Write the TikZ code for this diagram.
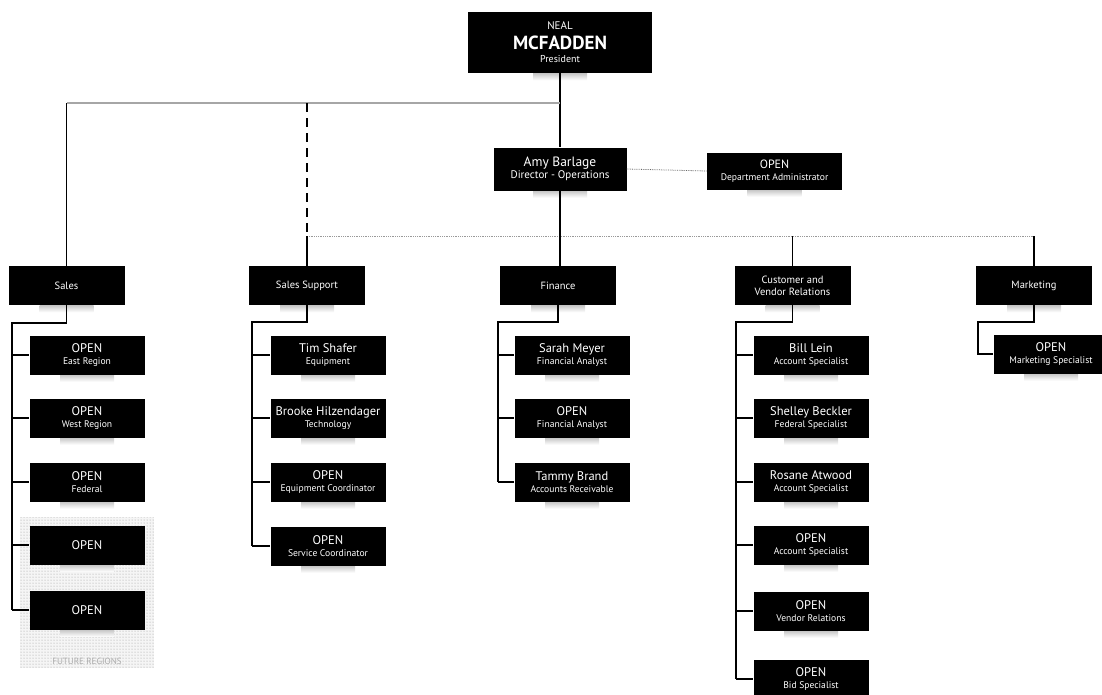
\documentclass[tikz,border=0pt]{standalone}
\usepackage{fontspec}
\setmainfont{PT Sans}
\usetikzlibrary{patterns}
\newcommand\boxname[1]{{\fontsize{12.5}{13}\selectfont #1}}
\newcommand\boxsub[1]{{\fontsize{9.6}{10}\selectfont #1}}
\tikzset{
  shadowed/.style={append after command={\pgfextra{\let\LN\tikzlastnode
     \shade[top color=gray!45, bottom color=white] ([xshift=-27pt]\LN.south) rectangle ([xshift=27pt,yshift=-7pt]\LN.south);}}},
  box/.style={fill=black, text=white, inner sep=0pt, align=center, shadowed},
  tier/.style={box, minimum width=116pt, minimum height=39pt, font=\fontsize{10.5}{12}\selectfont},
  child/.style={box, minimum width=115pt, minimum height=39pt},
  conn/.style={draw=black, line width=1.1pt},
  graybus/.style={draw=gray!70, line width=1.5pt},
  dotbus/.style={draw=black!60, line width=0.8pt, densely dotted},
}
\begin{document}
\begin{tikzpicture}[x=1pt,y=-1pt]
\useasboundingbox (0,0) rectangle (1102,694);
% future regions backdrop
\node[fill=gray!8, postaction={pattern=dots, pattern color=gray!80}, minimum width=134pt, minimum height=151pt, inner sep=0pt] (future) at (87,592.5) {};
\node[text=gray!65, font=\fontsize{9}{9}\selectfont] (futlabel) at (87,661) {FUTURE REGIONS};
% top
\node[box, minimum width=184pt, minimum height=61pt, font=\fontsize{11}{20}\selectfont] (pres) at (560,42.5)
  {NEAL\\{\fontsize{19}{19}\selectfont\bfseries MCFADDEN}\\[-7pt]{\fontsize{10}{10}\selectfont President}};
\node[box, minimum width=133pt, minimum height=43pt] (amy) at (560,169)
  {{\fontsize{13.5}{14}\selectfont Amy Barlage}\\{\fontsize{11}{12}\selectfont Director - Operations}};
\node[box, minimum width=135pt, minimum height=37pt] (admin) at (774.5,171)
  {{\fontsize{12}{13}\selectfont OPEN}\\{\fontsize{9.6}{10}\selectfont Department Administrator}};
% tier
\node[tier] (sales) at (66.5,285.5) {Sales};
\node[tier] (ss) at (307,285.5) {Sales Support};
\node[tier] (fin) at (558,285.5) {Finance};
\node[tier] (cvr) at (792.5,285.5) {Customer and\\Vendor Relations};
\node[tier] (mkt) at (1034,285.5) {Marketing};
% sales children
\node[child] (s1) at (87,355) {\boxname{OPEN}\\\boxsub{East Region}};
\node[child] (s2) at (87,418) {\boxname{OPEN}\\\boxsub{West Region}};
\node[child] (s3) at (87,482) {\boxname{OPEN}\\\boxsub{Federal}};
\node[child] (s4) at (87,545) {\boxname{OPEN}};
\node[child] (s5) at (87,610) {\boxname{OPEN}};
% sales support children
\node[child] (ss1) at (328,355) {\boxname{Tim Shafer}\\\boxsub{Equipment}};
\node[child] (ss2) at (328,418) {\boxname{Brooke Hilzendager}\\\boxsub{Technology}};
\node[child] (ss3) at (328,482) {\boxname{OPEN}\\\boxsub{Equipment Coordinator}};
\node[child] (ss4) at (328,546) {\boxname{OPEN}\\\boxsub{Service Coordinator}};
% finance children
\node[child] (f1) at (572,355) {\boxname{Sarah Meyer}\\\boxsub{Financial Analyst}};
\node[child] (f2) at (572,418) {\boxname{OPEN}\\\boxsub{Financial Analyst}};
\node[child] (f3) at (572,482) {\boxname{Tammy Brand}\\\boxsub{Accounts Receivable}};
% customer children
\node[child] (c1) at (811,355) {\boxname{Bill Lein}\\\boxsub{Account Specialist}};
\node[child] (c2) at (811,418) {\boxname{Shelley Beckler}\\\boxsub{Federal Specialist}};
\node[child] (c3) at (811,482) {\boxname{Rosane Atwood}\\\boxsub{Account Specialist}};
\node[child] (c4) at (811,545) {\boxname{OPEN}\\\boxsub{Account Specialist}};
\node[child] (c5) at (811,611) {\boxname{OPEN}\\\boxsub{Vendor Relations}};
\node[child] (c6) at (811,679) {\boxname{OPEN}\\\boxsub{Bid Specialist}};
% marketing child
\node[child] (m1) at (1051,354) {\boxname{OPEN}\\\boxsub{Marketing Specialist}};
% bus coordinates
\coordinate (topbus) at (0,103);
\coordinate (midbus) at (0,236);
\coordinate (sbus) at (12,323);
\coordinate (ssbus) at (252,322);
\coordinate (fbus) at (498,322);
\coordinate (cbus) at (736,322);
\coordinate (mbus) at (978,322);
% top connectors
\draw[conn] (pres.south) -- (amy.north);
\draw[graybus] (topbus -| pres.south) -- (topbus -| sales.north);
\draw[conn] (topbus -| sales.north) -- (sales.north);
\draw[conn, dash pattern=on 9pt off 6pt] (topbus -| ss.north) -- (midbus -| ss.north);
\draw[dotbus] (amy.east) -- (admin.west);
\draw[dotbus, draw=gray!80] (midbus -| ss.north) -- (midbus -| mkt.north);
\draw[conn] (midbus -| ss.north) -- (ss.north);
\draw[conn] (amy.south) -- (amy.south |- fin.north);
\draw[conn] (midbus -| cvr.north) -- (cvr.north);
\draw[conn] (midbus -| mkt.north) -- (mkt.north);
% sales bus
\draw[conn] (sales.south) |- (sbus) -- (sbus |- s5.west);
\foreach \n in {s1,s2,s3,s4,s5} \draw[conn] (sbus |- \n.west) -- (\n.west);
% sales support bus
\draw[conn] (ss.south) |- (ssbus) -- (ssbus |- ss4.west);
\foreach \n in {ss1,ss2,ss3,ss4} \draw[conn] (ssbus |- \n.west) -- (\n.west);
% finance bus
\draw[conn] (fin.south) |- (fbus) -- (fbus |- f3.west);
\foreach \n in {f1,f2,f3} \draw[conn] (fbus |- \n.west) -- (\n.west);
% customer bus
\draw[conn] (cvr.south) |- (cbus) -- (cbus |- c6.west);
\foreach \n in {c1,c2,c3,c4,c5,c6} \draw[conn] (cbus |- \n.west) -- (\n.west);
% marketing bus
\draw[conn] (mkt.south) |- (mbus) |- (m1.west);
\end{tikzpicture}
\end{document}
